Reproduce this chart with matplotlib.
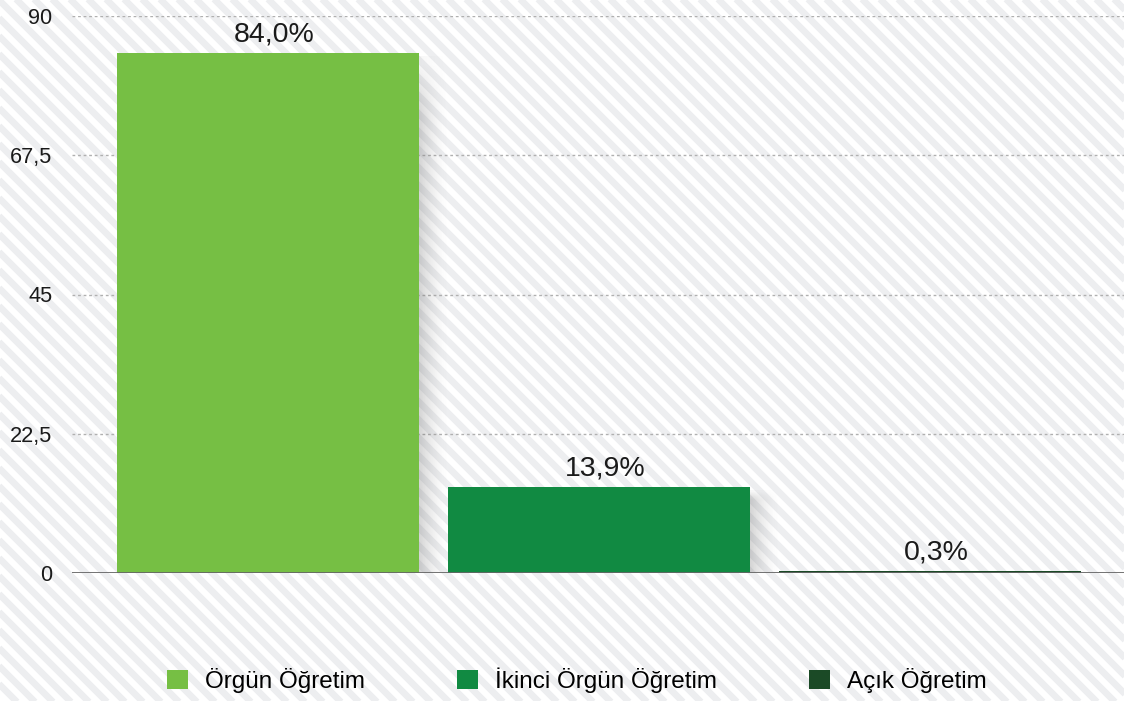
import matplotlib.pyplot as plt
import numpy as np
from matplotlib.patches import Patch

categories = ['Örgün Öğretim', 'İkinci Örgün Öğretim', 'Açık Öğretim']
values = [84.0, 13.9, 0.3]
labels = ['84,0%', '13,9%', '0,3%']
colors = ['#76bf44', '#118a42', '#1b4a26']
yticks = [0, 22.5, 45, 67.5, 90]
ytick_labels = ['0', '22,5', '45', '67,5', '90']

plt.rcParams['font.family'] = ['Liberation Sans', 'DejaVu Sans']

W, H = 1124, 701
fig = plt.figure(figsize=(W / 100, H / 100), dpi=100)

# striped background
bg = fig.add_axes([0, 0, 1, 1], zorder=-1)
bg.set_xlim(0, W)
bg.set_ylim(H, 0)
bg.axis('off')
for c in np.arange(-H - 40, W + 40, 18):
    bg.plot([c, c + H + 40], [-20, H + 20], color='#edeef0', lw=4.8, solid_capstyle='butt')

ax = fig.add_axes([72 / W, (H - 573) / H, 1 - 72 / W, (573 - 16) / H])
ax.patch.set_alpha(0)
x = np.arange(len(values))
width = 0.912

# soft shadows to the right of the bars (fade out horizontally and at the top)
nx_, ny_ = 40, 30
grad = np.zeros((ny_, nx_, 4))
grad[..., :3] = 0.4
fade_x = np.linspace(0.45, 0, nx_) ** 1.6
fade_y = np.ones(ny_)
fade_y[:3] = [0.2, 0.5, 0.8]
grad[..., 3] = fade_y[:, None] * fade_x[None, :]
for xi, v in zip(x, values):
    ax.imshow(grad, extent=[xi + width / 2, xi + width / 2 + 0.09, 0, max(v - 0.6, 0)],
              aspect='auto', interpolation='bilinear', zorder=1)

ax.bar(x, values, width=width, color=colors, zorder=2)
for xi, v, lab in zip(x, values, labels):
    ax.text(xi + 0.02, v + 0.9, lab, ha='center', va='bottom', fontsize=20.5, color='#1a1a1a')

ax.set_xlim(-0.592, 2.586)
ax.set_ylim(0, 90)
ax.set_yticks(yticks)
ax.set_yticklabels(ytick_labels, fontsize=15.7, color='#1a1a1a')
ax.tick_params(axis='y', length=0, pad=14)
ax.set_xticks([])
for yt in yticks[1:]:
    ax.axhline(yt, color='#b0b0b0', lw=1, ls=(0, (2, 2)), zorder=0)
ax.axhline(0, color='#666666', lw=2, zorder=3)
for s in ax.spines.values():
    s.set_visible(False)

handles = [Patch(facecolor=c, edgecolor='none') for c in colors]
fig.legend(handles, categories, loc='center', bbox_to_anchor=(577 / W, (H - 680) / H),
           ncol=3, frameon=False, fontsize=17.5, handlelength=0.85, handleheight=0.85,
           handletextpad=0.7, columnspacing=3.8)

fig.savefig('out.png', dpi=100)
